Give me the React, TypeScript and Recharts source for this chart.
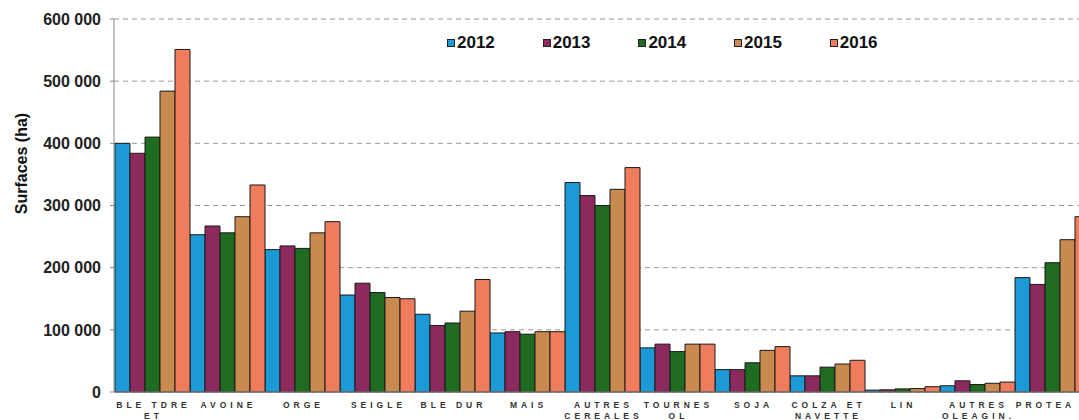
import React from "react";
import {
  BarChart,
  Bar,
  XAxis,
  YAxis,
  CartesianGrid,
  Legend,
} from "recharts";

const categories = [
  "BLE TDRE|ET",
  "AVOINE",
  "ORGE",
  "SEIGLE",
  "BLE DUR",
  "MAIS",
  "AUTRES|CEREALES",
  "TOURNES|OL",
  "SOJA",
  "COLZA ET|NAVETTE",
  "LIN",
  "AUTRES|OLEAGIN.",
  "PROTEA",
];

const years = ["2012", "2013", "2014", "2015", "2016"];

const s2012 = [400000, 253000, 229000, 156000, 125000, 95000, 337000, 71000, 36000, 26000, 3000, 10000, 184000];
const s2013 = [384000, 267000, 235000, 175000, 107000, 97000, 316000, 77000, 36000, 26000, 3500, 18000, 173000];
const s2014 = [410000, 256000, 231000, 160000, 111000, 93000, 300000, 65000, 47000, 40000, 5000, 12000, 208000];
const s2015 = [484000, 282000, 256000, 152000, 130000, 97000, 326000, 77000, 67000, 45000, 5500, 14000, 245000];
const s2016 = [551000, 333000, 274000, 150000, 181000, 97000, 361000, 77000, 73000, 51000, 8500, 16000, 282000];

const yTicks = [0, 100000, 200000, 300000, 400000, 500000, 600000];

const colors = ["#1b9ad6", "#8c2a5e", "#1e6b21", "#c98a4f", "#ee7c5d"];

const series = [s2012, s2013, s2014, s2015, s2016];

const data = categories.map((c, i) => {
  const row: any = { name: c };
  years.forEach((y, k) => {
    row[y] = series[k][i];
  });
  return row;
});

const fmt = (v: number) =>
  String(v).replace(/\B(?=(\d{3})+(?!\d))/g, " ");

function CategoryTick(props: any) {
  const { x, y, payload, index } = props;
  const lines = String(payload.value).split("|");
  // last label sits at the cropped right edge, nudge it left so it stays readable
  const cx = index === categories.length - 1 ? x - 6 : x + 2;
  return (
    <text
      x={cx}
      y={y}
      textAnchor="middle"
      fontSize={8.5}
      fontWeight="bold"
      fill="#333"
      fontFamily="Arial, 'Liberation Sans', sans-serif"
      style={{ letterSpacing: "4px" }}
    >
      {lines.map((l, i) => (
        <tspan key={i} x={cx} dy={i === 0 ? 8 : 11}>
          {l}
        </tspan>
      ))}
    </text>
  );
}

function LegendBox() {
  return (
    <div style={{ display: "flex", fontFamily: "Arial, 'Liberation Sans', sans-serif" }}>
      {years.map((y, i) => (
        <div
          key={y}
          style={{ display: "flex", alignItems: "center", width: 95.7 }}
        >
          <span
            style={{
              display: "inline-block",
              width: 6,
              height: 6,
              background: colors[i],
              border: "1px solid #222",
              marginRight: 2,
            }}
          />
          <span style={{ fontSize: 17, fontWeight: "bold", color: "#111" }}>{y}</span>
        </div>
      ))}
    </div>
  );
}

export default function App() {
  return (
    <div
      style={{
        position: "fixed",
        left: 0,
        top: 0,
        width: 1079,
        height: 420,
        overflow: "hidden",
        background: "#fff",
      }}
    >
      <BarChart
        width={1100}
        height={420}
        data={data}
        margin={{ top: 19, right: 11, left: 0, bottom: 0 }}
        barCategoryGap={1}
        barGap={0}
      >
        <CartesianGrid
          vertical={false}
          stroke="#999"
          strokeDasharray="5 4"
        />
        <XAxis
          dataKey="name"
          interval={0}
          height={28}
          tickLine={false}
          axisLine={{ stroke: "#888" }}
          tick={<CategoryTick />}
        />
        <YAxis
          width={114}
          domain={[0, 600000]}
          ticks={yTicks}
          tickFormatter={fmt}
          tickSize={4}
          tickMargin={9}
          axisLine={{ stroke: "#888" }}
          tickLine={{ stroke: "#888" }}
          tick={{
            fontSize: 16,
            fontWeight: "bold",
            fill: "#222",
            fontFamily: "Arial, 'Liberation Sans', sans-serif",
          }}
          label={(p: any) => {
            const vb = p.viewBox || {};
            const cy = (vb.y ?? 19) + (vb.height ?? 373) / 2 - 42;
            return (
              <text
                x={27}
                y={cy}
                transform={`rotate(-90, 27, ${cy})`}
                textAnchor="middle"
                fontSize={16}
                fontWeight="bold"
                fill="#111"
                fontFamily="Arial, 'Liberation Sans', sans-serif"
              >
                Surfaces (ha)
              </text>
            );
          }}
        />
        <Legend
          layout="horizontal"
          verticalAlign="middle"
          align="center"
          content={<LegendBox />}
          wrapperStyle={{ position: "absolute", top: 33, left: 447, width: 480 }}
        />
        {years.map((y, i) => (
          <Bar
            key={y}
            dataKey={y}
            fill={colors[i]}
            stroke="#1a1a1a"
            strokeWidth={1}
            isAnimationActive={false}
          />
        ))}
      </BarChart>
    </div>
  );
}
